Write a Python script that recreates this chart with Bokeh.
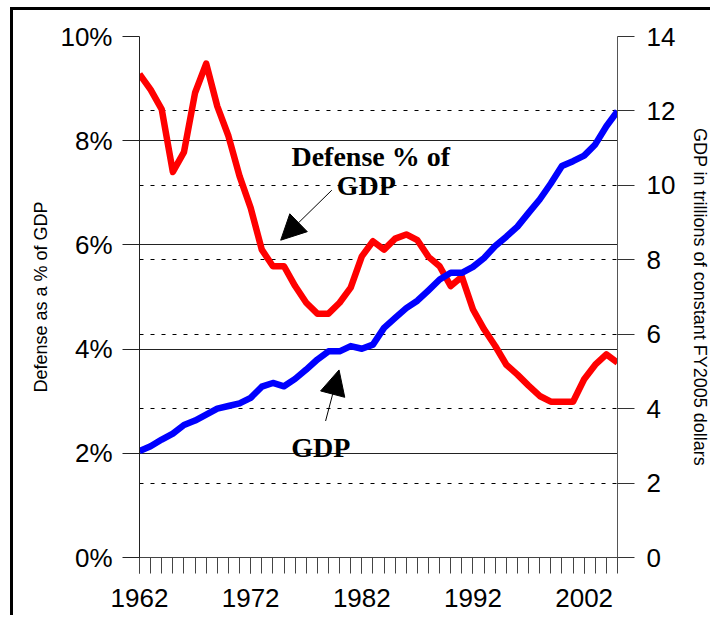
import math
from bokeh.plotting import figure
from bokeh.models import (Range1d, LinearAxis, FixedTicker, Grid, Arrow,
                          NormalHead, Label)
from bokeh.embed import file_html
from bokeh.resources import INLINE

years = list(range(1962, 2006))
defense_pct = [9.28, 8.98, 8.60, 7.40, 7.78, 8.92, 9.48, 8.66, 8.09, 7.32,
               6.71, 5.91, 5.59, 5.59, 5.21, 4.89, 4.68, 4.68, 4.89, 5.18,
               5.78, 6.07, 5.91, 6.12, 6.20, 6.09, 5.77, 5.59, 5.21, 5.39,
               4.76, 4.38, 4.06, 3.70, 3.51, 3.30, 3.10, 2.99, 2.99, 2.99,
               3.42, 3.70, 3.90, 3.74]
gdp_trillions = [2.86, 2.99, 3.17, 3.33, 3.56, 3.68, 3.84, 4.00, 4.07, 4.14,
                 4.29, 4.59, 4.69, 4.60, 4.80, 5.05, 5.32, 5.54, 5.54, 5.68,
                 5.61, 5.72, 6.17, 6.44, 6.70, 6.90, 7.18, 7.47, 7.65, 7.65,
                 7.81, 8.05, 8.37, 8.62, 8.89, 9.26, 9.62, 10.05, 10.52, 10.65,
                 10.80, 11.10, 11.59, 11.99]

year_ticks = [1962, 1972, 1982, 1992, 2002]
pct_ticks = [0, 2, 4, 6, 8, 10]
pct_labels = ["0%", "2%", "4%", "6%", "8%", "10%"]
gdp_ticks = [0, 2, 4, 6, 8, 10, 12, 14]
gdp_grid = [2, 4, 6, 8, 10, 12]

SANS = "Liberation Sans"
SERIF = "Liberation Serif"

W, H = 700, 608
ML, MT, MR, MB = 126, 26, 95, 61

p = figure(width=W, height=H, output_backend="svg", toolbar_location=None,
           x_range=Range1d(1962, 2005), y_range=Range1d(0, 10),
           min_border_left=ML, min_border_right=MR, min_border_top=MT,
           min_border_bottom=MB)
p.styles = {"border-top": "3px solid black", "border-left": "3px solid black",
            "margin-top": "7px", "margin-left": "10px"}
p.extra_y_ranges = {"gdp": Range1d(0, 14)}
p.outline_line_color = None
p.background_fill_color = "white"
p.border_fill_color = "white"

# grids
p.xgrid.visible = False
p.ygrid.ticker = FixedTicker(ticks=pct_ticks)
p.ygrid.grid_line_color = "#222222"
p.ygrid.grid_line_width = 1
dgrid = Grid(dimension=1, y_range_name="gdp", ticker=FixedTicker(ticks=gdp_grid),
             grid_line_color="black", grid_line_dash="4 7", grid_line_width=1)
p.add_layout(dgrid)

# x axis
xa = p.xaxis[0]
xa.ticker = FixedTicker(ticks=year_ticks, minor_ticks=years)
xa.major_tick_out = 16
xa.major_tick_in = 0
xa.minor_tick_out = 16
xa.minor_tick_in = 0
xa.major_tick_line_color = "#444444"
xa.minor_tick_line_color = "#444444"
xa.axis_line_color = "#444444"
xa.major_label_text_font = SANS
xa.major_label_text_font_size = "26px"
xa.major_label_text_color = "black"
xa.major_label_standoff = 15

# left axis
ya = p.yaxis[0]
ya.ticker = FixedTicker(ticks=pct_ticks)
ya.major_label_overrides = {t: l for t, l in zip(pct_ticks, pct_labels)}
ya.major_tick_out = 17
ya.major_tick_in = 0
ya.minor_tick_line_color = None
ya.major_tick_line_color = "#222222"
ya.axis_line_color = "#222222"
ya.major_label_text_font = SANS
ya.major_label_text_font_size = "26px"
ya.major_label_text_color = "black"
ya.major_label_standoff = 10
ya.axis_label = "Defense as a % of GDP"
ya.axis_label_text_font = SANS
ya.axis_label_text_font_size = "18px"
ya.axis_label_text_font_style = "normal"
ya.axis_label_text_color = "black"
ya.axis_label_standoff = 6

# right axis
ra = LinearAxis(y_range_name="gdp", ticker=FixedTicker(ticks=gdp_ticks))
ra.major_tick_out = 17
ra.major_tick_in = 0
ra.minor_tick_line_color = None
ra.major_tick_line_color = "#333333"
ra.axis_line_color = "#555555"
ra.major_label_text_font = SANS
ra.major_label_text_font_size = "26px"
ra.major_label_text_color = "black"
ra.major_label_standoff = 12
ra.axis_label = "GDP in trillions of constant FY2005 dollars"
ra.axis_label_text_font = SANS
ra.axis_label_text_font_size = "18px"
ra.axis_label_text_font_style = "normal"
ra.axis_label_text_color = "black"
ra.axis_label_standoff = 12
p.add_layout(ra, "right")

# series
p.line(years, defense_pct, line_color="#FF0000", line_width=6.5, line_join="round")
p.line(years, gdp_trillions, line_color="#0000FF", line_width=6.5,
       line_join="round", y_range_name="gdp")

# annotations
note = dict(text_font=SERIF, text_font_size="28px", text_font_style="bold",
            text_color="black", text_align="center", text_baseline="alphabetic")
p.add_layout(Label(x=1982.8, y=7.70, text="Defense % of", **note))
p.add_layout(Label(x=1982.4, y=7.14, text="GDP", **note))
p.add_layout(Label(x=1978.3, y=2.11, text="GDP", **note))
p.add_layout(Arrow(x_start=1979.3, y_start=7.05, x_end=1974.7, y_end=6.09,
                   line_color="black", line_width=1,
                   end=NormalHead(size=25, fill_color="black", line_color="black")))
p.add_layout(Arrow(x_start=1978.74, y_start=2.62, x_end=1979.95, y_end=3.60,
                   line_color="black", line_width=1,
                   end=NormalHead(size=25, fill_color="black", line_color="black")))

open("out.html", "w").write(file_html(p, INLINE))
